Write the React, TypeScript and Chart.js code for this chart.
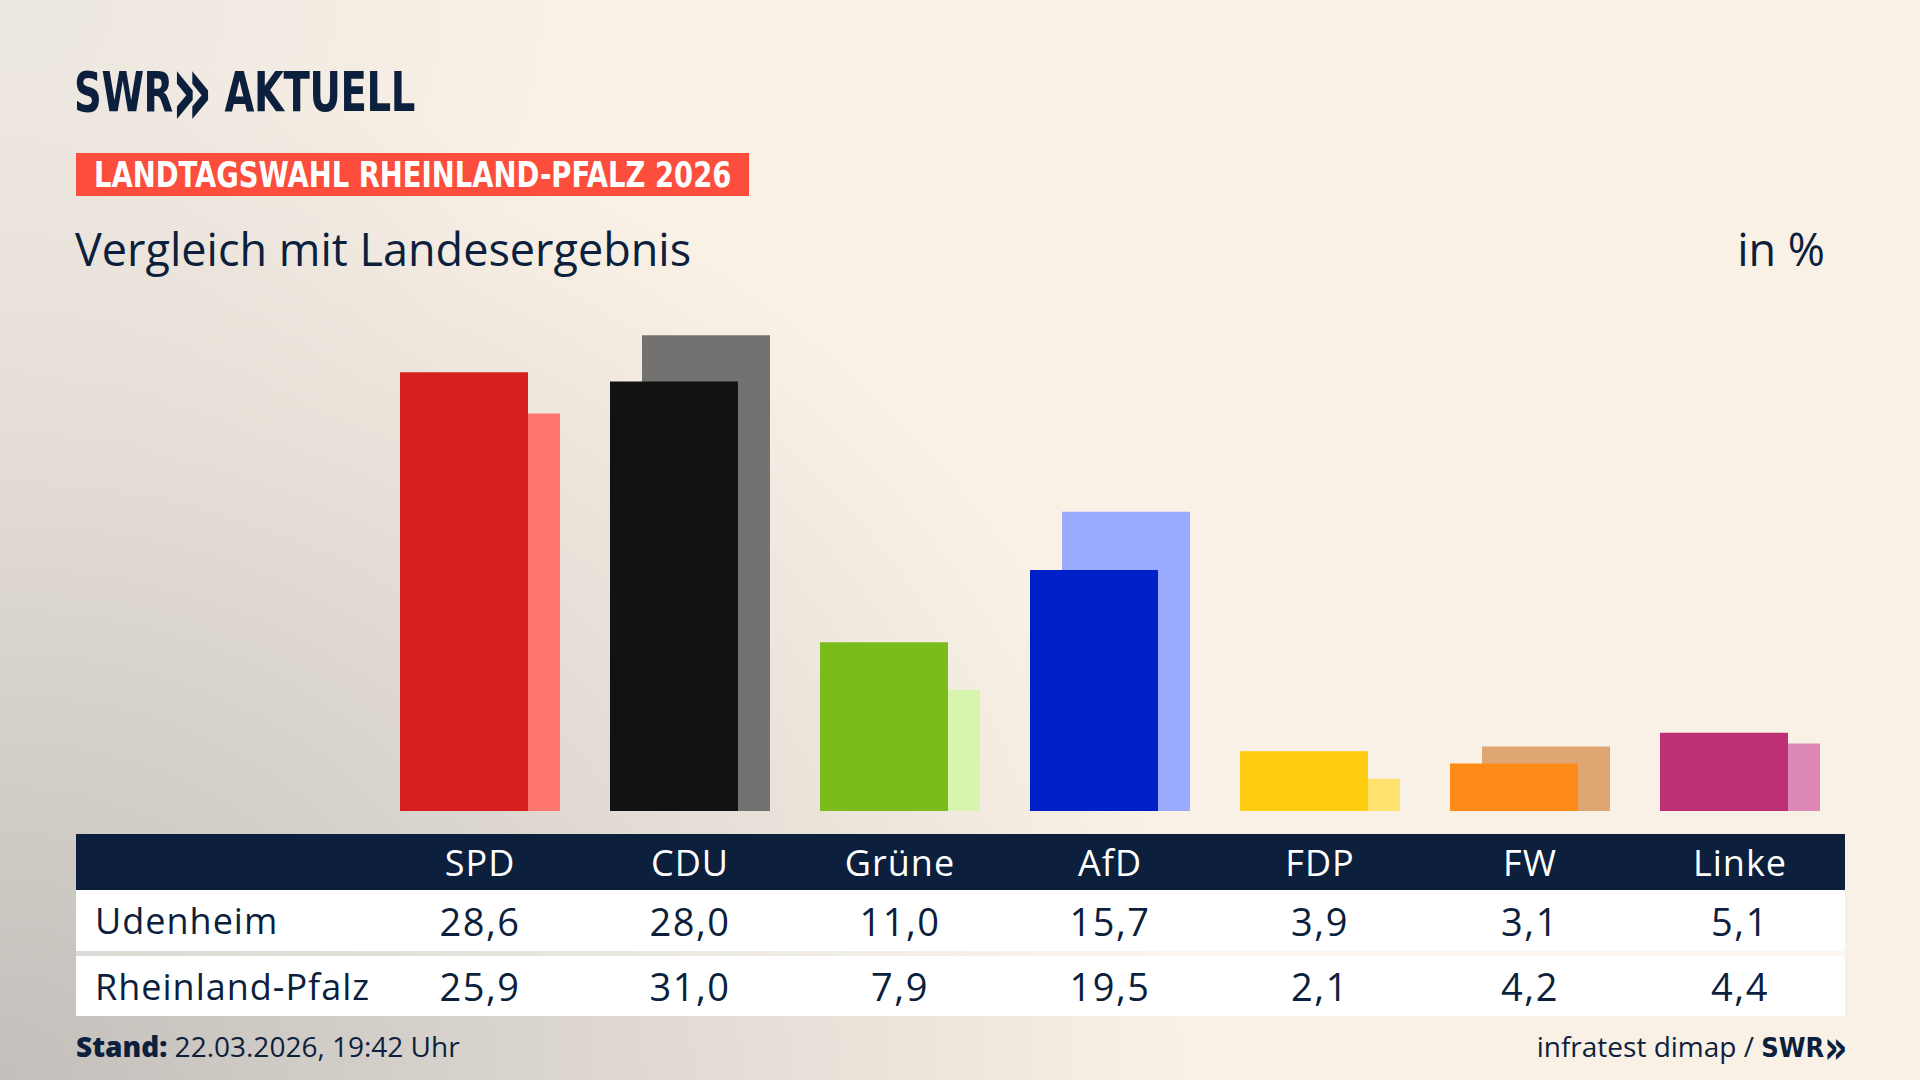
import React, { useEffect, useRef } from "react";
import { Chart, registerables } from "chart.js";

Chart.register(...registerables);

const parties = ["SPD", "CDU", "Grüne", "AfD", "FDP", "FW", "Linke"];
const rowLabels = ["Udenheim", "Rheinland-Pfalz"];
const udenheim = [28.6, 28.0, 11.0, 15.7, 3.9, 3.1, 5.1];
const landesergebnis = [25.9, 31.0, 7.9, 19.5, 2.1, 4.2, 4.4];
const mainColors = ["#d71f20", "#121212", "#7abc1c", "#0020c7", "#ffcd0f", "#fe8b18", "#be3075"];
const lightColors = ["#ff766e", "#737270", "#d7f5ac", "#9aabff", "#ffe170", "#dea672", "#dd88b5"];
const yMax = 35;

const NAVY = "#0c1f3d";
const fmt = (v: number) => v.toFixed(1).replace(".", ",");

function BarChart() {
  const ref = useRef<HTMLCanvasElement | null>(null);
  useEffect(() => {
    if (!ref.current) return;
    const chart = new Chart(ref.current, {
      type: "bar",
      data: {
        labels: parties,
        datasets: [
          {
            label: rowLabels[0],
            data: udenheim,
            backgroundColor: mainColors,
            borderWidth: 0,
            categoryPercentage: 64 / 210,
            barPercentage: 4,
          },
          {
            label: rowLabels[1],
            data: landesergebnis,
            backgroundColor: lightColors,
            borderWidth: 0,
            categoryPercentage: 64 / 210,
            barPercentage: 4,
          },
        ],
      },
      options: {
        animation: false,
        responsive: false,
        devicePixelRatio: 1,
        layout: { padding: 0 },
        plugins: { legend: { display: false }, tooltip: { enabled: false } },
        scales: {
          x: { display: false, offset: true },
          y: { display: false, min: 0, max: yMax },
        },
      },
    });
    return () => chart.destroy();
  }, []);
  return (
    <canvas
      ref={ref}
      width={1470}
      height={537}
      style={{ position: "absolute", left: 375, top: 274, width: 1470, height: 537 }}
    />
  );
}

export default function App() {
  const sans = '"Open Sans", "Noto Sans", sans-serif';
  const narrow = '"Liberation Sans Narrow", "DejaVu Sans Condensed", sans-serif';
  const cell: React.CSSProperties = {
    display: "flex",
    alignItems: "center",
    justifyContent: "center",
  };
  const labelCell: React.CSSProperties = {
    ...cell,
    justifyContent: "flex-start",
    paddingLeft: 19,
    background: "#fff",
    fontSize: 36,
    letterSpacing: 1,
  };
  const valueCell: React.CSSProperties = {
    ...cell,
    background: "#fff",
    fontWeight: 500,
    fontSize: 38,
    letterSpacing: 1.5,
  };
  return (
    <div
      style={{
        position: "fixed",
        left: 0,
        top: 0,
        width: 1920,
        height: 1080,
        overflow: "hidden",
        background:
          "radial-gradient(ellipse 62% 95% at 0% 100%, #c3bfba 0%, #d6d1cb 38%, rgba(250,241,230,0) 100%), radial-gradient(ellipse 30% 45% at 0% 0%, #ebe6e0 0%, rgba(250,241,230,0) 100%), #faf1e6",
        color: NAVY,
        fontFamily: sans,
      }}
    >
      {/* Logo */}
      <div
        style={{
          position: "absolute",
          left: 74,
          top: 62,
          fontFamily: narrow,
          fontWeight: 700,
          fontSize: 55,
          lineHeight: "60px",
          letterSpacing: -0.5,
          whiteSpace: "nowrap",
          color: NAVY,
          transform: "scaleX(0.78)",
          transformOrigin: "0 0",
        }}
      >
        SWR
        <span style={{ display: "inline-block", transform: "scale(1.7, 1.9) translateY(-1px)", margin: "0 10px 0 8px" }}>»</span>
        {" "}AKTUELL
      </div>

      {/* Banner */}
      <div
        style={{
          position: "absolute",
          left: 76,
          top: 153,
          width: 673,
          height: 43,
          background: "#fd4e3d",
          color: "#ffffff",
          fontFamily: narrow,
          fontWeight: 700,
          fontSize: 36,
          lineHeight: "43px",
          paddingLeft: 18,
          boxSizing: "border-box",
          whiteSpace: "nowrap",
          overflow: "hidden",
        }}
      >
        <span style={{ display: "inline-block", transform: "scaleX(0.848)", transformOrigin: "0 50%" }}>
          LANDTAGSWAHL RHEINLAND-PFALZ 2026
        </span>
      </div>

      {/* Subtitle */}
      <div style={{ position: "absolute", left: 75, top: 219, fontSize: 45, lineHeight: "60px", whiteSpace: "nowrap" }}>
        Vergleich mit Landesergebnis
      </div>
      <div style={{ position: "absolute", right: 95, top: 219, fontSize: 45, lineHeight: "60px", whiteSpace: "nowrap" }}>
        in %
      </div>

      <BarChart />

      {/* Table */}
      <div
        style={{
          position: "absolute",
          left: 76,
          top: 834,
          width: 1769,
          display: "grid",
          gridTemplateColumns: `299px repeat(${parties.length}, 210px)`,
          gridTemplateRows: "56px 61px 5px 60px",
          fontSize: 36,
        }}
      >
        <div style={{ background: NAVY }} />
        {parties.map((p) => (
          <div key={p} style={{ ...cell, background: NAVY, color: "#ffffff", fontWeight: 400, letterSpacing: 1 }}>
            {p}
          </div>
        ))}
        <div style={labelCell}>{rowLabels[0]}</div>
        {udenheim.map((v, i) => (
          <div key={"u" + i} style={valueCell}>
            {fmt(v)}
          </div>
        ))}
        <div style={{ gridColumn: `1 / span ${parties.length + 1}`, background: "rgba(255,255,255,0.35)" }} />
        <div style={labelCell}>{rowLabels[1]}</div>
        {landesergebnis.map((v, i) => (
          <div key={"l" + i} style={valueCell}>
            {fmt(v)}
          </div>
        ))}
      </div>

      {/* Footer */}
      <div style={{ position: "absolute", left: 76, top: 1028, fontSize: 28, lineHeight: "36px", whiteSpace: "nowrap" }}>
        <span style={{ fontWeight: 800 }}>Stand:</span> 22.03.2026, 19:42 Uhr
      </div>
      <div
        style={{
          position: "absolute",
          right: 76,
          top: 1028,
          fontSize: 28,
          lineHeight: "36px",
          whiteSpace: "nowrap",
        }}
      >
        infratest dimap /{" "}
        <span style={{ fontFamily: narrow, fontWeight: 700, fontSize: 27 }}>
          SWR<span style={{ display: "inline-block", transform: "scale(1.5, 1.7)", marginLeft: 4 }}>»</span>
        </span>
      </div>
    </div>
  );
}
